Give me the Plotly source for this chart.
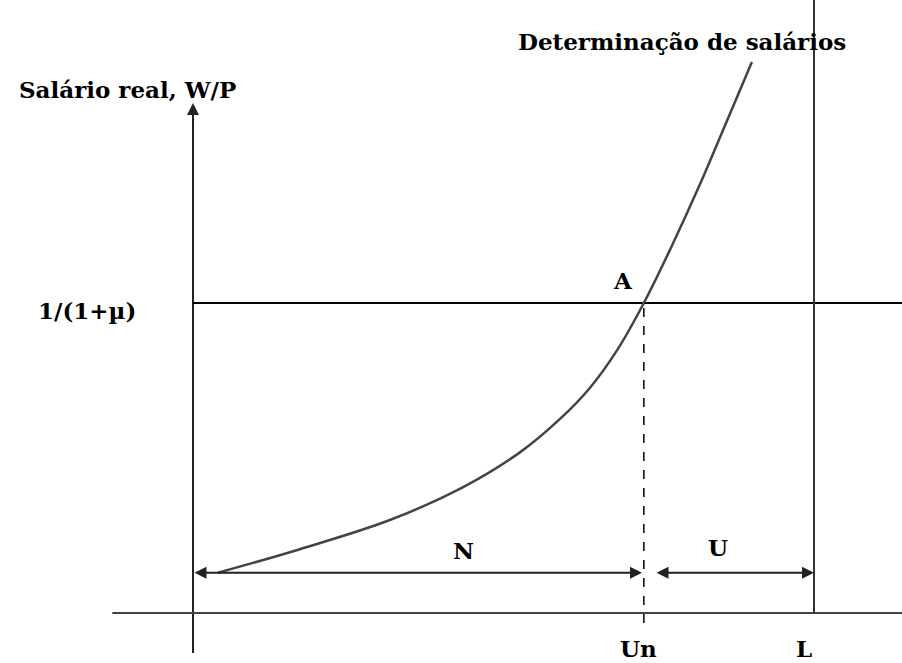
import plotly.graph_objects as go

# curve "Determinação de salários" (x = employment, y = real wage)
curve_x = [0.40, 1.72, 3.17, 4.35, 5.27, 5.91, 6.39, 6.83, 7.26, 7.68, 8.16, 8.57, 9.00]
curve_y = [0.13, 0.206, 0.30, 0.406, 0.519, 0.626, 0.726, 0.848, 1.00, 1.171, 1.381, 1.574, 1.777]

# key levels
price_level = 1.0      # 1/(1+mu)
un = 7.26              # natural unemployment point
labour = 10.0          # L
arrow_y = 0.13

x_range = [-3.108, 11.417]
y_range = [-0.161, 1.977]

ink = "#222222"
font = dict(family="DejaVu Serif", size=23, color="black")

fig = go.Figure()

# axes of the diagram
fig.add_trace(go.Scatter(x=[0, 0], y=[-0.129, 1.62], mode="lines",
                         line=dict(color=ink, width=2), hoverinfo="skip"))
fig.add_trace(go.Scatter(x=[-1.30, x_range[1]], y=[0, 0], mode="lines",
                         line=dict(color="#444444", width=2), hoverinfo="skip"))
# 1/(1+mu) line
fig.add_trace(go.Scatter(x=[0, x_range[1]], y=[price_level, price_level], mode="lines",
                         line=dict(color="black", width=2), hoverinfo="skip"))
# L vertical
fig.add_trace(go.Scatter(x=[labour, labour], y=[0, y_range[1]], mode="lines",
                         line=dict(color="#333333", width=2), hoverinfo="skip"))
# Un dashed
fig.add_trace(go.Scatter(x=[un, un], y=[-0.032, price_level], mode="lines",
                         line=dict(color="black", width=1.5, dash="dash"), hoverinfo="skip"))
# wage-setting curve
fig.add_trace(go.Scatter(x=curve_x, y=curve_y, mode="lines",
                         line=dict(color="#444444", width=2.5, shape="spline", smoothing=1.0),
                         hoverinfo="skip"))

# arrows
def arrow(x0, y0, x1, y1, side="end"):
    fig.add_annotation(x=x1, y=y1, ax=x0, ay=y0, xref="x", yref="y", axref="x", ayref="y",
                       text="", showarrow=True, arrowhead=2, arrowside=side,
                       arrowsize=1.2, arrowwidth=2, arrowcolor=ink)

arrow(0, 1.55, 0, 1.645)
arrow(0, arrow_y, un - 0.03, arrow_y, side="end+start")
arrow(un + 0.18, arrow_y, labour, arrow_y, side="end+start")

# labels
labels = [
    ("Salário real, W/P", -1.05, 1.687),
    ("Determinação de salários", 7.874, 1.842),
    ("1/(1+µ)", -1.707, 0.977),
    ("A", 6.924, 1.074),
    ("N", 4.348, 0.203),
    ("U", 8.454, 0.21),
    ("Un", 7.166, -0.113),
    ("L", 9.84, -0.113),
]
for txt, lx, ly in labels:
    fig.add_annotation(x=lx, y=ly, text=f"<b>{txt}</b>", showarrow=False,
                       xref="x", yref="y", font=font)

fig.update_xaxes(visible=False, range=x_range)
fig.update_yaxes(visible=False, range=y_range)
fig.update_layout(width=902, height=663, margin=dict(l=0, r=0, t=0, b=0),
                  plot_bgcolor="white", paper_bgcolor="white", showlegend=False)

fig.write_html("out.html", config={"displayModeBar": False},
               post_script="document.body.style.margin='0';")
